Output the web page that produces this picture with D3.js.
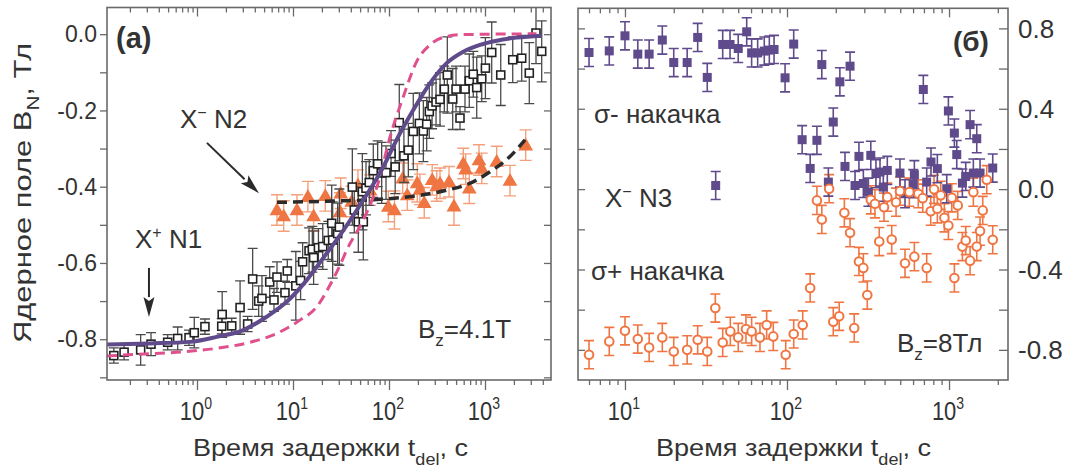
<!DOCTYPE html>
<html><head><meta charset="utf-8">
<script src="https://cdn.jsdelivr.net/npm/d3@7"></script>
<style>
body{margin:0;background:#fff}
svg{display:block}
text{font-family:"Liberation Sans",Arial,sans-serif;fill:#333}
</style>
</head><body>
<svg id="c" width="1074" height="473"></svg>
<script>
// ---------- DATA ----------
// Panel (a): X+ N1 (open squares)
const n1T = [0.136,0.174,0.259,0.332,0.495,0.629,0.826,0.937,1.21,1.81,1.83,2.30,2.81,3.37,3.80,4.39,4.75,5.72,6.34,6.81,8.25,8.72,10.7,12.0,12.6,14.7,15.9,16.4,18.4,20.4,23.3,25.3,25.9,29.2,30.4,41.5,43.5,47.9,52.8,54.0,57.6,62.3,68.6,76.2,83.9,93.1,105,116,128,143,159,179,207,228,247,263,281,309,340,377,405,461,499,549,619,686,755,820,925,1010,1175,1459,1945,2412,2893,3398,3897];
const n1B = [-0.843,-0.834,-0.828,-0.813,-0.808,-0.798,-0.796,-0.783,-0.767,-0.766,-0.735,-0.765,-0.717,-0.760,-0.642,-0.700,-0.693,-0.650,-0.697,-0.637,-0.678,-0.621,-0.660,-0.646,-0.597,-0.568,-0.564,-0.586,-0.560,-0.557,-0.541,-0.496,-0.540,-0.523,-0.506,-0.401,-0.461,-0.492,-0.413,-0.492,-0.404,-0.389,-0.358,-0.340,-0.364,-0.363,-0.313,-0.348,-0.232,-0.319,-0.304,-0.255,-0.234,-0.254,-0.236,-0.203,-0.188,-0.178,-0.171,-0.144,-0.107,-0.170,-0.144,-0.220,-0.144,-0.122,-0.105,-0.140,-0.117,-0.089,-0.048,-0.107,-0.067,-0.063,-0.102,0.003,-0.045];
const n1E = [0.02,0.02,0.04,0.03,0.02,0.03,0.02,0.04,0.02,0.02,0.06,0.02,0.07,0.02,0.08,0.04,0.06,0.04,0.03,0.04,0.03,0.03,0.09,0.05,0.05,0.06,0.06,0.07,0.05,0.06,0.05,0.1,0.1,0.08,0.1,0.1,0.06,0.08,0.1,0.1,0.07,0.06,0.07,0.06,0.08,0.07,0.06,0.07,0.1,0.07,0.07,0.1,0.08,0.08,0.07,0.07,0.06,0.06,0.07,0.06,0.1,0.08,0.06,0.03,0.06,0.07,0.06,0.08,0.06,0.08,0.08,0.08,0.06,0.06,0.08,0.08,0.08];
// Panel (a): X- N2 (triangles)
const n2T = [6.81,8.00,11.0,14.3,16.4,21.7,31.4,30.9,40.9,47.5,63.4,98.4,114,139,155,197,210,233,282,314,340,422,475,594,629,686,866,925,1324,1821,2653];
const n2B = [-0.461,-0.477,-0.461,-0.426,-0.477,-0.424,-0.417,-0.466,-0.439,-0.396,-0.409,-0.452,-0.461,-0.378,-0.422,-0.390,-0.407,-0.442,-0.382,-0.398,-0.391,-0.387,-0.451,-0.339,-0.354,-0.404,-0.330,-0.352,-0.334,-0.384,-0.291];
const n2E = [0.04,0.04,0.04,0.04,0.04,0.04,0.04,0.05,0.04,0.04,0.04,0.04,0.05,0.04,0.04,0.05,0.04,0.04,0.04,0.04,0.04,0.04,0.05,0.04,0.04,0.04,0.04,0.04,0.04,0.04,0.04];
// Panel (a): fit curves
const fitSolidT = [0.1155,0.324,0.846,1.60,3.04,5.32,8.60,13.9,22.4,30.9,54.0,87.3,120,179,267,399,594,887,1324,2140,3897];
const fitSolidB = [-0.814,-0.811,-0.807,-0.794,-0.776,-0.741,-0.702,-0.645,-0.575,-0.527,-0.435,-0.348,-0.277,-0.199,-0.129,-0.076,-0.046,-0.028,-0.017,-0.009,-0.004];
const fitDashT = [0.1155,0.217,0.720,1.60,3.57,6.76,11.8,17.7,24.3,30.9,36.3,54.0,80.6,98.4,141,194,267,399,594,3440];
const fitDashB = [-0.844,-0.840,-0.833,-0.824,-0.808,-0.785,-0.750,-0.715,-0.658,-0.606,-0.566,-0.487,-0.374,-0.286,-0.164,-0.072,-0.028,-0.006,-0.001,0.001];
const fitN2T = [6.81,28.5,80.6,179,399,698,1127,1821,2611];
const fitN2B = [-0.441,-0.4375,-0.433,-0.425,-0.409,-0.391,-0.361,-0.321,-0.277];
// Panel (б): sigma- pumping (filled squares)
const smT = [6.0,8.0,10,12.0,14.1,17.0,20.0,24.2,28.1,32.2,36.3,40.1,44.5,50.0,56.4,60.5,65.9,72.4,77.8,83.2,97.3,110,124,139,153,164,180,193,212,228,245,263,278,296,318,329,354,375,393,416,498,535,602,611,694,728,774,847,968,991,1079,1116,1209,1268,1349,1413,1483,1554,1861];
const smB = [0.680,0.688,0.763,0.672,0.672,0.742,0.630,0.630,0.755,0.556,0.018,0.720,0.720,0.700,0.783,0.678,0.678,0.687,0.692,0.695,0.554,0.722,0.246,0.103,0.243,0.620,0.035,0.334,0.534,0.113,0.612,0.018,0.163,0.028,-0.015,0.168,0.077,0.085,0.010,0.093,0.080,-0.023,0.027,0.072,0.496,0.035,0.135,0.102,0.002,0.389,0.279,0.172,0.030,0.063,0.321,0.080,0.251,0.080,0.105];
const smE = 0.07;
// Panel (б): sigma+ pumping (open circles)
const spT = [6.0,8.0,10,12.0,14.1,17.0,20.0,24.2,28.1,32.2,36.1,40.1,44.7,50.0,55.8,60.5,68.1,74.9,82.3,98.2,110,125,139,153,164,182,193,210,226,245,260,278,296,313,329,349,371,397,416,443,471,498,535,569,611,646,688,728,771,808,847,889,936,991,1040,1079,1132,1209,1268,1349,1413,1483,1554,1615,1709,1861];
const spB = [-0.824,-0.758,-0.705,-0.746,-0.788,-0.738,-0.808,-0.800,-0.750,-0.808,-0.592,-0.763,-0.708,-0.738,-0.696,-0.708,-0.738,-0.676,-0.733,-0.824,-0.721,-0.676,-0.492,-0.056,-0.151,0.002,-0.660,-0.633,-0.118,-0.217,-0.691,-0.360,-0.392,-0.527,-0.053,-0.073,-0.261,-0.090,-0.040,-0.251,-0.065,-0.010,-0.369,-0.015,-0.336,-0.023,-0.045,-0.392,-0.110,-0.001,-0.098,-0.031,-0.143,-0.181,-0.043,-0.442,-0.081,-0.286,-0.256,-0.356,-0.015,-0.286,-0.209,-0.106,0.047,-0.252];
const spE = 0.07;
// Tick labels
const leftYTicks = [0.0,-0.2,-0.4,-0.6,-0.8];
const leftYTickLabels = ["0.0","-0.2","-0.4","-0.6","-0.8"];
const rightYTicks = [0.8,0.4,0.0,-0.4,-0.8];
const rightYTickLabels = ["0.8","0.4","0.0","-0.4","-0.8"];
const leftXDecades = [0,1,2,3];
const rightXDecades = [1,2,3];

// ---------- LAYOUT ----------
const svg = d3.select("#c");
const FR = "#6a6a6a";
const purple = "#5f4a8b", orange = "#ef7643", orangeLight = "#f3a07c", pink = "#e0508c";

const L = {x0:107, x1:551, y0:7.5, y1:380};
const R = {x0:578, x1:1008, y0:8.3, y1:380};
const xL = d3.scaleLog().domain([0.1155, 4870]).range([L.x0, L.x1]);
const yL = d3.scaleLinear().domain([0.07, -0.907]).range([L.y0, L.y1]);
const xR = d3.scaleLog().domain([5.13, 2312]).range([R.x0, R.x1]);
const yR = d3.scaleLinear().domain([0.9, -0.95]).range([R.y0, R.y1]);

function logMinors(x){
  const [a,b] = x.domain(); const out=[];
  for(let e=Math.floor(Math.log10(a)); e<=Math.ceil(Math.log10(b)); e++)
    for(let m=2;m<=9;m++){const v=m*Math.pow(10,e); if(v>a&&v<b) out.push(v);}
  return out;
}
function styleAxis(g){ g.select(".domain").remove(); g.selectAll("line").attr("stroke",FR).attr("stroke-width",1.3); g.selectAll("text").remove(); }

function frameAxes(P, x, y, yTicksL, yTicksR, leftOut, sL, sR){
  const majors = x.ticks().filter(v=>Math.abs(Math.log10(v)-Math.round(Math.log10(v)))<1e-9);
  const minors = logMinors(x);
  svg.append("g").attr("transform",`translate(0,${P.y1})`).call(d3.axisBottom(x).tickValues(majors).tickSize(10)).call(styleAxis);
  svg.append("g").attr("transform",`translate(0,${P.y1})`).call(d3.axisBottom(x).tickValues(minors).tickSize(5)).call(styleAxis);
  svg.append("g").attr("transform",`translate(0,${P.y0})`).call(d3.axisTop(x).tickValues(majors).tickSize(-9)).call(styleAxis);
  svg.append("g").attr("transform",`translate(0,${P.y0})`).call(d3.axisTop(x).tickValues(minors).tickSize(-5)).call(styleAxis);
  svg.append("g").attr("transform",`translate(${P.x0},0)`).call(d3.axisLeft(y).tickValues(yTicksL).tickSize(leftOut? sL : -sL)).call(styleAxis);
  svg.append("g").attr("transform",`translate(${P.x1},0)`).call(d3.axisRight(y).tickValues(yTicksR).tickSize(-sR)).call(styleAxis);
  svg.append("rect").attr("x",P.x0).attr("y",P.y0).attr("width",P.x1-P.x0).attr("height",P.y1-P.y0)
    .attr("fill","none").attr("stroke",FR).attr("stroke-width",1.6);
}
const stepTicks = (a,b,s)=>d3.range(Math.round((b-a)/s)+1).map(i=>+(a+i*s).toFixed(3));

// clip paths
const defs = svg.append("defs");
defs.append("clipPath").attr("id","clipL").append("rect").attr("x",L.x0).attr("y",L.y0).attr("width",L.x1-L.x0).attr("height",L.y1-L.y0);
defs.append("clipPath").attr("id","clipR").append("rect").attr("x",R.x0).attr("y",R.y0).attr("width",R.x1-R.x0).attr("height",R.y1-R.y0);

function errBars(g, x, y, T, B, E, color, cap, w){
  g.append("g").selectAll("path").data(d3.range(T.length)).join("path")
    .attr("d", i=>{const e = Array.isArray(E)? (E[i]??0.05) : E; const X=x(T[i]), a=y(B[i]-e), b=y(B[i]+e);
      return `M${X},${a}V${b}M${X-cap},${a}H${X+cap}M${X-cap},${b}H${X+cap}`;})
    .attr("stroke",color).attr("stroke-width",w).attr("fill","none");
}

// ---------- PANEL (a) ----------
const gL = svg.append("g").attr("clip-path","url(#clipL)");
errBars(gL, xL, yL, n2T, n2B, n2E, orangeLight, 6, 1.4);
gL.append("g").selectAll("path").data(d3.range(n2T.length)).join("path")
  .attr("d", d3.symbol(d3.symbolTriangle, 95))
  .attr("transform", i=>`translate(${xL(n2T[i])},${yL(n2B[i])+1})`)
  .attr("fill", orange);
errBars(gL, xL, yL, n1T, n1B, n1E, "#4a4a4a", 5, 1.3);
const lineL = (T,B)=>d3.line().x(i=>xL(T[i])).y(i=>yL(B[i])).curve(d3.curveMonotoneX)(d3.range(T.length));
gL.append("path").attr("d", lineL(fitN2T, fitN2B)).attr("fill","none").attr("stroke","#2b2b2b").attr("stroke-width",3.5).attr("stroke-dasharray","10,6");
gL.append("g").selectAll("rect").data(d3.range(n1T.length)).join("rect")
  .attr("x", i=>xL(n1T[i])-4).attr("y", i=>yL(n1B[i])-4).attr("width",8).attr("height",8)
  .attr("fill","#fff").attr("stroke","#222").attr("stroke-width",1.6);
gL.append("path").attr("d", lineL(fitDashT, fitDashB)).attr("fill","none").attr("stroke",pink).attr("stroke-width",3).attr("stroke-dasharray","10,6");
gL.append("path").attr("d", lineL(fitSolidT, fitSolidB)).attr("fill","none").attr("stroke",purple).attr("stroke-width",4);

frameAxes(L, xL, yL, stepTicks(-0.9,0.0,0.1), stepTicks(-0.9,0.0,0.1), true, 7, 7);

// ---------- PANEL (б) ----------
const gR = svg.append("g").attr("clip-path","url(#clipR)");
errBars(gR, xR, yR, spT, spB, spE, orange, 5, 1.6);
errBars(gR, xR, yR, smT, smB, smE, purple, 5, 1.6);
gR.append("g").selectAll("rect").data(d3.range(smT.length)).join("rect")
  .attr("x", i=>xR(smT[i])-4.5).attr("y", i=>yR(smB[i])-4.5).attr("width",9).attr("height",9)
  .attr("fill", purple);
gR.append("g").selectAll("circle").data(d3.range(spT.length)).join("circle")
  .attr("cx", i=>xR(spT[i])).attr("cy", i=>yR(spB[i])).attr("r",4.3)
  .attr("fill","#fff").attr("stroke",orange).attr("stroke-width",2);

frameAxes(R, xR, yR, stepTicks(-0.8,0.8,0.2), stepTicks(-0.8,0.8,0.2), false, 7, 9);

// ---------- TICK LABELS ----------
svg.append("g").selectAll("text").data(leftYTicks).join("text")
  .attr("x", L.x0-10).attr("y", d=>yL(d)).attr("dy","0.36em").attr("text-anchor","end")
  .attr("font-size",23).text((d,i)=>leftYTickLabels[i]);
svg.append("g").selectAll("text").data(rightYTicks).join("text")
  .attr("x", R.x1+10).attr("y", d=>yR(d)).attr("dy","0.36em").attr("text-anchor","start")
  .attr("font-size",26).text((d,i)=>rightYTickLabels[i]);
function decadeLabels(x, decs){
  const t = svg.append("g").selectAll("text").data(decs).join("text")
    .attr("transform", d=>`translate(${x(Math.pow(10,d))-1},420) scale(0.88,1)`)
    .attr("text-anchor","middle").attr("font-size",25);
  t.append("tspan").text("10");
  t.append("tspan").attr("dy",-11).attr("font-size",16).text(d=>d);
}
decadeLabels(xL, leftXDecades);
decadeLabels(xR, rightXDecades);

// ---------- TITLES / ANNOTATIONS ----------
function rich(parent, parts, attrs){
  const t = parent.append("text");
  Object.entries(attrs).forEach(([k,v])=>t.attr(k,v));
  parts.forEach(p=>{
    const s = t.append("tspan").text(p.t);
    if(p.sub){ s.attr("dy",p.sub).attr("font-size",p.fs||14); }
    if(p.back){ s.attr("dy",p.back); }
  });
  return t;
}
// y axis title
rich(svg, [{t:"Ядерное поле B"},{t:"N",sub:8,fs:16},{t:", Тл",back:-8}],
  {"transform":"translate(31,193) rotate(-90)","text-anchor":"middle","font-size":24,
   "textLength":300,"lengthAdjust":"spacingAndGlyphs"});
// x axis titles
[330.5, 793.5].forEach(cx=>{
  rich(svg, [{t:"Время задержки t"},{t:"del",sub:9,fs:16},{t:", с",back:-9}],
    {"x":cx,"y":456,"text-anchor":"middle","font-size":24,"textLength":275,"lengthAdjust":"spacingAndGlyphs"});
});
// panel labels
svg.append("text").attr("x",116).attr("y",48).attr("font-size",29).attr("font-weight","bold").text("(a)");
svg.append("text").attr("x",953).attr("y",51).attr("font-size",28).attr("font-weight","bold").text("(б)");
rich(svg,[{t:"X"},{t:"−",sub:-10,fs:16},{t:" N2",back:10}],{"x":180,"y":128,"font-size":26});
rich(svg,[{t:"X"},{t:"+",sub:-10,fs:16},{t:" N1",back:10}],{"x":135,"y":248,"font-size":26});
rich(svg,[{t:"B"},{t:"z",sub:8,fs:17},{t:"=4.1T",back:-8}],{"x":418,"y":338,"font-size":26});
rich(svg,[{t:"B"},{t:"z",sub:8,fs:17},{t:"=8Тл",back:-8}],{"x":897,"y":352,"font-size":26});
svg.append("text").attr("x",594).attr("y",123).attr("font-size",26).text("σ- накачка");
rich(svg,[{t:"X"},{t:"−",sub:-10,fs:16},{t:" N3",back:10}],{"x":605,"y":207,"font-size":26});
svg.append("text").attr("x",591).attr("y",280).attr("font-size",26).text("σ+ накачка");

// arrows (positions in data coordinates of panel a)
const arrows = [ {t0:1.27,b0:-0.285,t1:4.42,b1:-0.417}, {t0:0.316,b0:-0.613,t1:0.316,b1:-0.742} ];
arrows.forEach(a=>{
  const x0=xL(a.t0), y0=yL(a.b0), x1=xL(a.t1), y1=yL(a.b1);
  const dx=x1-x0, dy=y1-y0, len=Math.hypot(dx,dy), ux=dx/len, uy=dy/len;
  const hl=20, hw=5.5, bx=x1-ux*hl, by=y1-uy*hl;
  svg.append("line").attr("x1",x0).attr("y1",y0).attr("x2",bx).attr("y2",by).attr("stroke","#2a2a2a").attr("stroke-width",2);
  svg.append("path").attr("d",`M${x1},${y1}L${bx-uy*hw},${by+ux*hw}L${bx+ux*4},${by+uy*4}L${bx+uy*hw},${by-ux*hw}Z`).attr("fill","#2a2a2a");
});
</script>
</body></html>
